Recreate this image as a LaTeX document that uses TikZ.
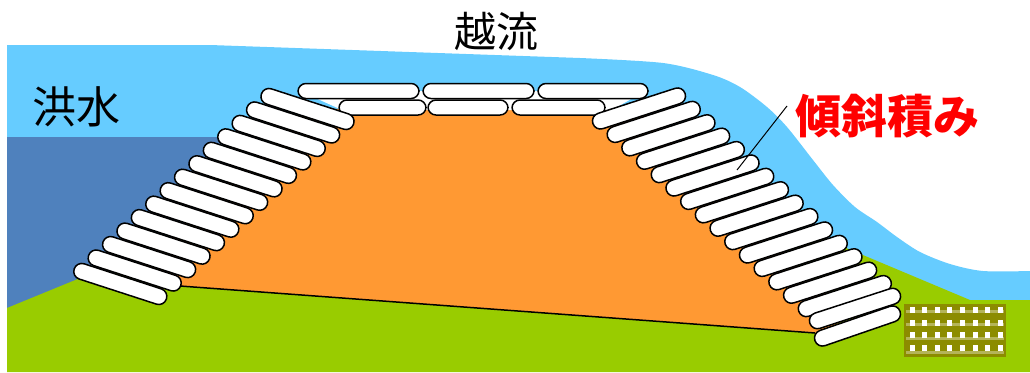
\documentclass[tikz,border=0pt]{standalone}
\usepackage{fontspec}
\newfontfamily\jp{Noto Sans CJK JP}
\definecolor{sky}{HTML}{66CCFF}
\definecolor{deep}{HTML}{4F81BD}
\definecolor{grass}{HTML}{99CC00}
\definecolor{soil}{HTML}{FF9933}
\definecolor{mat}{HTML}{8C8C00}
\begin{document}
\begin{tikzpicture}[x=1pt,y=-1pt,
    bag/.style={draw, fill=white, line width=1.5pt, rounded corners=7.9pt,
      minimum height=16pt, inner sep=0pt},
    lbl/.style={inner sep=0pt}]
  \useasboundingbox (0,0) rectangle (1030,372);

  % water, overflow over the crest
  \fill[sky] (7,300) -- (7,45) -- (210,45) -- (580,58)
    -- plot[smooth, tension=0.5] coordinates {(580,58) (663,63) (713,75) (740,87)
      (767,107) (787,127) (813,160) (833,185) (855,207) (877,222) (897,237)
      (920,252) (950,264) (983,271) (1030,271)}
    -- (1030,300) -- cycle;
  \fill[deep] (7,137) -- (262,137) -- (100,300) -- (7,310) -- cycle;
  % ground
  \fill[grass] (7,372) -- (7,308) -- (90,274) -- (820,237) -- (970,300)
    -- (1030,300) -- (1030,372) -- cycle;
  % mat at the toe
  \fill[mat] (904,304) rectangle (1006,357);
  \foreach \i in {0,...,7}
    \foreach \j in {0,...,3}
      \fill[white] (909.5+12.6*\i,307+12.5*\j) rectangle ++(5,6);
  \foreach \y in {310,323,337,351}
    \fill[white, opacity=0.35] (906,\y) rectangle (1004,\y+3);

  % levee body
  \fill[soil] (180,286) -- (815,333) -- (850,318) -- (640,108) -- (307,109)
    -- (135,270) -- cycle;
  \draw[line width=1.5pt] (180,286) -- (815,333);
  \fill[white] (300,91) -- (645,91) -- (612,110) -- (342,110) -- cycle;

  % crest
  \node[bag, minimum height=15pt, minimum width=121pt] (c1) at (358.5,91) {};
  \node[bag, minimum height=15pt, minimum width=111pt] (c2) at (478.5,91) {};
  \node[bag, minimum height=15pt, minimum width=110pt] (c3) at (593,91) {};
  \node[bag, minimum height=15pt, minimum width=87pt] (c4) at (382.5,107.5) {};
  \node[bag, minimum height=15pt, minimum width=80pt] (c5) at (468,107.5) {};
  \node[bag, minimum height=15pt, minimum width=93pt] (c6) at (558.5,107.5) {};

  % slopes
  \foreach \i in {0,...,13}
    \node[bag, minimum width=97pt, rotate=-18] (l\i) at (307.5-14.4*\i,109+13.46*\i) {};
  \foreach \i in {0,...,14}
    \node[bag, minimum width=97pt, rotate=18] (r\i) at (639+14.7*\i,108.5+13.4*\i) {};
  \node[bag, minimum width=95pt, rotate=18] (r15) at (855,308.5) {};
  \node[bag, minimum width=90pt, rotate=19] (r16) at (857.5,326) {};

  % labels
  \node[lbl, font=\jp\fontsize{44}{44}\selectfont] (flood) at (76.5,107) {洪水};
  \node[lbl, font=\jp\fontsize{42}{42}\selectfont] (over) at (496.5,31) {越流};
  \node[lbl, text=red, font=\jp\bfseries\fontsize{46}{46}\selectfont] (tag) at (887.5,116.5) {傾斜積み};
  \coordinate (lead) at (787,106);
  \coordinate (tip) at (737,170);
  \draw[line width=1pt] (lead) -- (tip);
\end{tikzpicture}
\end{document}
